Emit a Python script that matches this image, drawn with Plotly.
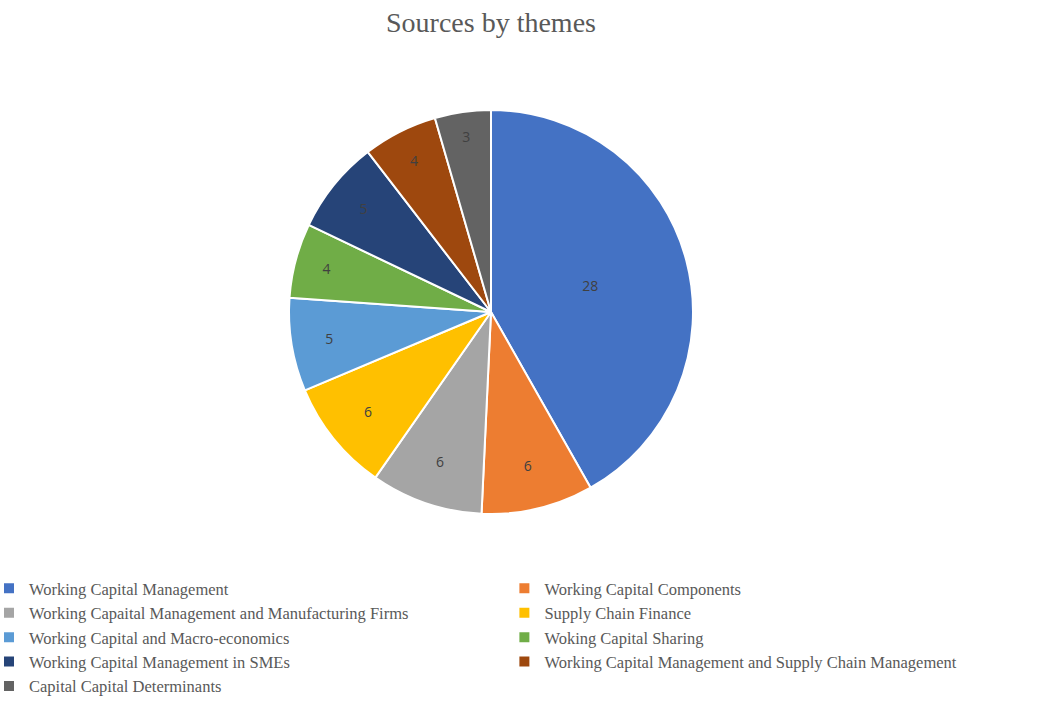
import plotly.graph_objects as go

labels = [
    "Working Capital Management",
    "Working Capital Components",
    "Working Capaital Management and Manufacturing Firms",
    "Supply Chain Finance",
    "Working Capital and Macro-economics",
    "Woking Capital Sharing",
    "Working Capital Management in SMEs",
    "Working Capital Management and Supply Chain Management",
    "Capital Capital Determinants",
]
values = [28, 6, 6, 6, 5, 4, 5, 4, 3]
colors = ["#4472C4", "#ED7D31", "#A5A5A5", "#FFC000", "#5B9BD5",
          "#70AD47", "#264478", "#9E480E", "#636363"]

W, H = 1037, 704
cx, cy, r = 491, 312, 202

fig = go.Figure(go.Pie(
    labels=labels,
    values=values,
    sort=False,
    direction="clockwise",
    rotation=0,
    marker=dict(colors=colors, line=dict(color="white", width=2)),
    textinfo="value",
    textposition="inside",
    insidetextorientation="horizontal",
    textfont=dict(family="Open Sans, Arial, sans-serif", size=14, color="#404040"),
    domain=dict(x=[(cx - r) / W, (cx + r) / W], y=[1 - (cy + r) / H, 1 - (cy - r) / H]),
    hoverinfo="label+value",
))

fig.update_layout(
    width=W, height=H, autosize=False,
    margin=dict(l=0, r=0, t=0, b=0),
    paper_bgcolor="white",
    title=dict(text="Sources by themes", x=491 / W, xanchor="center",
               y=1 - 22 / H, yanchor="middle",
               font=dict(family="Liberation Serif, Times New Roman, serif", size=28, color="#595959")),
    legend=dict(orientation="h", x=0.006, xanchor="left", y=0, yanchor="bottom",
                entrywidth=0.497, entrywidthmode="fraction", indentation=-12,
                font=dict(family="Liberation Serif, Times New Roman, serif", size=16.5, color="#595959"),
                itemwidth=30, tracegroupgap=0, traceorder="normal"),
)

fig.write_html("out.html")
